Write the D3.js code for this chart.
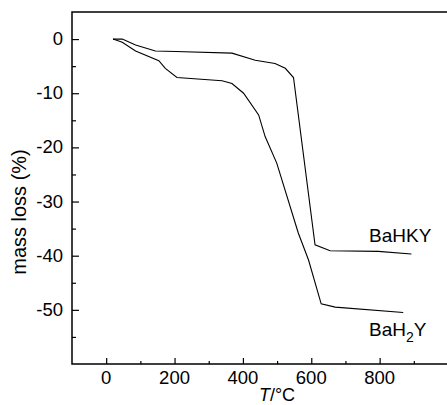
<html>
<head>
<meta charset="utf-8">
<script src="https://cdnjs.cloudflare.com/ajax/libs/d3/7.8.5/d3.min.js"></script>
<style>
  body { margin: 0; background: #fff; }
  text { font-family: "Liberation Sans", Arial, sans-serif; fill: #000; }
</style>
</head>
<body>
<div id="chart"></div>
<script>
// temperature (°C) and mass loss (%)
var hkyT    = [20, 47, 86, 144, 203, 368, 436, 494, 524, 548, 611, 655, 796, 893];
var hkyLoss = [0, 0, -1.1, -2.2, -2.3, -2.6, -3.9, -4.5, -5.4, -7.1, -38.0, -39.1, -39.2, -39.7];

var h2yT    = [20, 47, 86, 154, 173, 207, 339, 368, 402, 446, 465, 499, 562, 592, 629, 670, 869];
var h2yLoss = [0, -0.6, -2.2, -4.0, -5.4, -7.1, -7.7, -8.2, -10.0, -14.0, -18.0, -22.9, -35.8, -40.8, -48.9, -49.5, -50.5];

var xMajor = [0, 200, 400, 600, 800];
var xMinor = [100, 300, 500, 700, 900];
var yMajor = [0, -10, -20, -30, -40, -50];
var yMinor = [-5, -15, -25, -35, -45, -55];

var W = 447, H = 405;
var pLeft = 72, pTop = 12, pRight = 448, pBottom = 364;
var fs = 18.5;

var x = d3.scaleLinear().domain([-100, 1000]).range([pLeft, pRight]);
var y = d3.scaleLinear().domain([-60, 5]).range([pBottom, pTop]);

var svg = d3.select("#chart").append("svg")
  .attr("width", W).attr("height", H);

// frame: left, top and bottom lines only
svg.append("path")
  .attr("d", "M" + pRight + "," + pTop + "H" + pLeft + "V" + pBottom + "H" + pRight)
  .attr("fill", "none").attr("stroke", "#000").attr("stroke-width", 1.5);

// x axis ticks (inward)
svg.append("g").attr("transform", "translate(0," + pBottom + ")")
  .call(d3.axisTop(x).tickValues(xMajor).tickSize(6).tickFormat(""))
  .call(function(g){ g.select(".domain").remove(); g.selectAll("line").attr("stroke-width", 1.2); });
svg.append("g").attr("transform", "translate(0," + pBottom + ")")
  .call(d3.axisTop(x).tickValues(xMinor).tickSize(3).tickFormat(""))
  .call(function(g){ g.select(".domain").remove(); g.selectAll("line").attr("stroke-width", 1.2); });

svg.append("g").selectAll("text").data(xMajor).enter().append("text")
  .attr("x", function(d){ return x(d); })
  .attr("y", 383.5)
  .attr("text-anchor", "middle")
  .attr("font-size", fs)
  .text(function(d){ return d; });

// y axis ticks (inward)
svg.append("g").attr("transform", "translate(" + pLeft + ",0)")
  .call(d3.axisRight(y).tickValues(yMajor).tickSize(7).tickFormat(""))
  .call(function(g){ g.select(".domain").remove(); g.selectAll("line").attr("stroke-width", 1.2); });
svg.append("g").attr("transform", "translate(" + pLeft + ",0)")
  .call(d3.axisRight(y).tickValues(yMinor).tickSize(4).tickFormat(""))
  .call(function(g){ g.select(".domain").remove(); g.selectAll("line").attr("stroke-width", 1.2); });

svg.append("g").selectAll("text").data(yMajor).enter().append("text")
  .attr("x", 63)
  .attr("y", function(d){ return y(d) + 6; })
  .attr("text-anchor", "end")
  .attr("font-size", fs)
  .text(function(d){ return d; });

// axis titles
var xt = svg.append("text")
  .attr("x", 277).attr("y", 400.5)
  .attr("text-anchor", "middle")
  .attr("font-size", 18);
xt.append("tspan").attr("font-style", "italic").text("T");
xt.append("tspan").text("/°C");

svg.append("text")
  .attr("transform", "translate(26,212) rotate(-90)")
  .attr("text-anchor", "middle")
  .attr("font-size", 20)
  .text("mass loss (%)");

// curves
var line = d3.line()
  .x(function(d){ return x(d[0]); })
  .y(function(d){ return y(d[1]); });

svg.append("path")
  .datum(d3.zip(hkyT, hkyLoss))
  .attr("d", line)
  .attr("fill", "none").attr("stroke", "#000").attr("stroke-width", 1.1);

svg.append("path")
  .datum(d3.zip(h2yT, h2yLoss))
  .attr("d", line)
  .attr("fill", "none").attr("stroke", "#000").attr("stroke-width", 1.1);

// curve labels
svg.append("text")
  .attr("x", 369).attr("y", 241.5)
  .attr("font-size", 19)
  .text("BaHKY");

var l2 = svg.append("text")
  .attr("x", 369).attr("y", 336)
  .attr("font-size", 19);
l2.append("tspan").text("BaH");
l2.append("tspan").attr("dy", 6).attr("font-size", 14).text("2");
l2.append("tspan").attr("dy", -6).text("Y");
</script>
</body>
</html>
